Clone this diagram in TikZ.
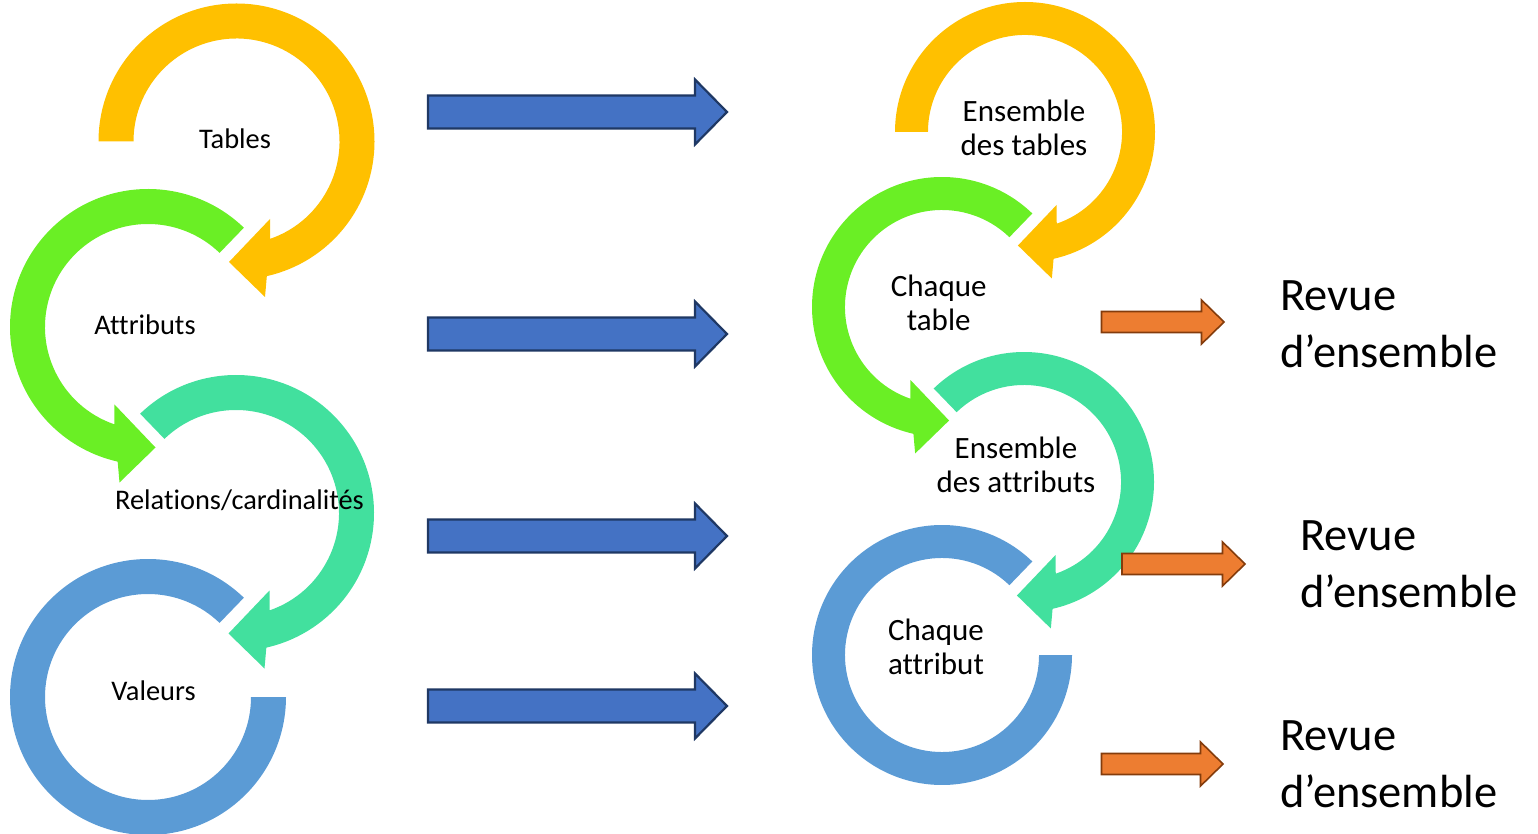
\documentclass[tikz,border=0pt]{standalone}
\usepackage{fontspec}
\setmainfont{Carlito}[Ligatures=NoCommon]
\definecolor{ringyellow}{HTML}{FFC000}
\definecolor{ringgreen}{HTML}{6AEF25}
\definecolor{ringteal}{HTML}{42E09E}
\definecolor{ringblue}{HTML}{5B9BD5}
\definecolor{arrowblue}{HTML}{4472C4}
\definecolor{arrowblueedge}{HTML}{1F3864}
\definecolor{arroworange}{HTML}{ED7D31}
\definecolor{arroworangeedge}{HTML}{843C0C}
\tikzset{
  bluearrow/.style={fill=arrowblue, draw=arrowblueedge, line width=2.2pt, line join=miter},
  orangearrow/.style={fill=arroworange, draw=arroworangeedge, line width=1.6pt, line join=miter},
  lbl/.style={inner sep=0pt, anchor=base, font=\fontsize{28.4}{34}\selectfont},
  lbltwo/.style={inner sep=0pt, anchor=base, font=\fontsize{31}{34}\selectfont},
  revue/.style={inner sep=0pt, anchor=base west, font=\fontsize{46.5}{56.5}\selectfont},
}
% circular arrow: cx, cy, xscale (mirror), scale, start angle, colour
\newcommand{\ringarrow}[6]{%
  \fill[#6, shift={(#1,#2)}, xscale=#3, scale=#4]
    (#5:138) arc[start angle=#5, end angle=-77.3, radius=138]
    -- (28.5,-155.5) -- (-7.5,-120.5) -- (33.5,-77.5)
    -- (-70.9:103) arc[start angle=-70.9, end angle=#5, radius=103] -- cycle;}
% open ring (last of the cycle): cx, cy, scale, colour
\newcommand{\openring}[4]{%
  \fill[#4, shift={(#1,#2)}, scale=#3]
    (46:138) arc[start angle=46, end angle=360, radius=138]
    -- (0:103) arc[start angle=360, end angle=46, radius=103] -- cycle;}
% block arrow: style, x start, x tip, y centre, shaft half, head half, head length
\newcommand{\blockarr}[7]{%
  \draw[#1] (#2,#4-#5) -- (#3-#7,#4-#5) -- (#3-#7,#4-#6) -- (#3,#4)
    -- (#3-#7,#4+#6) -- (#3-#7,#4+#5) -- (#2,#4+#5) -- cycle;}
\begin{document}
\begin{tikzpicture}[x=1pt,y=1pt]
\useasboundingbox (0,0) rectangle (1538,833);
% left column
\ringarrow{236.5}{691.5}{1}{1}{180}{ringyellow}
\ringarrow{148}{506}{-1}{1}{134}{ringgreen}
\ringarrow{236}{320}{1}{1}{134}{ringteal}
\openring{148}{136}{1}{ringblue}
% right column
\ringarrow{1025}{701}{1}{0.942}{180}{ringyellow}
\ringarrow{942}{526}{-1}{0.942}{134}{ringgreen}
\ringarrow{1024}{351}{1}{0.942}{134}{ringteal}
\openring{942}{178}{0.942}{ringblue}
% blue arrows
\blockarr{bluearrow}{428}{727}{721}{16.5}{32.5}{32}
\blockarr{bluearrow}{428}{727}{499}{16.5}{32.5}{32}
\blockarr{bluearrow}{428}{727}{297}{16.5}{32.5}{32}
\blockarr{bluearrow}{428}{727}{127}{16.5}{32.5}{32}
% orange arrows
\blockarr{orangearrow}{1101.5}{1224}{511}{10.5}{22}{22.5}
\blockarr{orangearrow}{1122}{1245}{269}{10.5}{22}{22.5}
\blockarr{orangearrow}{1101.5}{1223}{69}{10.5}{22}{22.5}
% labels left
\node[lbl] (tables) at (235,684.7) {Tables};
\node[lbl] (attributs) at (145,498.7) {Attributs};
\node[lbl] (relations) at (239.5,323) {Relations/cardinalités};
\node[lbl] (valeurs) at (153.5,133) {Valeurs};
% labels right
\node[lbltwo] (enstables) at (1024,711.3) {\begin{tabular}[t]{@{}c@{}}Ensemble\\des tables\end{tabular}};
\node[lbltwo] (chtable) at (938.7,536.3) {\begin{tabular}[t]{@{}c@{}}Chaque\\table\end{tabular}};
\node[lbltwo] (ensattr) at (1016,374.7) {\begin{tabular}[t]{@{}c@{}}Ensemble\\des attributs\end{tabular}};
\node[lbltwo] (chattr) at (936,193) {\begin{tabular}[t]{@{}c@{}}Chaque\\attribut\end{tabular}};
% review labels
\node[revue] (revueA) at (1280,522.3) {\begin{tabular}[t]{@{}l@{}}Revue\\d’ensemble\end{tabular}};
\node[revue] (revueB) at (1300,282.3) {\begin{tabular}[t]{@{}l@{}}Revue\\d’ensemble\end{tabular}};
\node[revue] (revueC) at (1280,82.3) {\begin{tabular}[t]{@{}l@{}}Revue\\d’ensemble\end{tabular}};
\end{tikzpicture}
\end{document}
